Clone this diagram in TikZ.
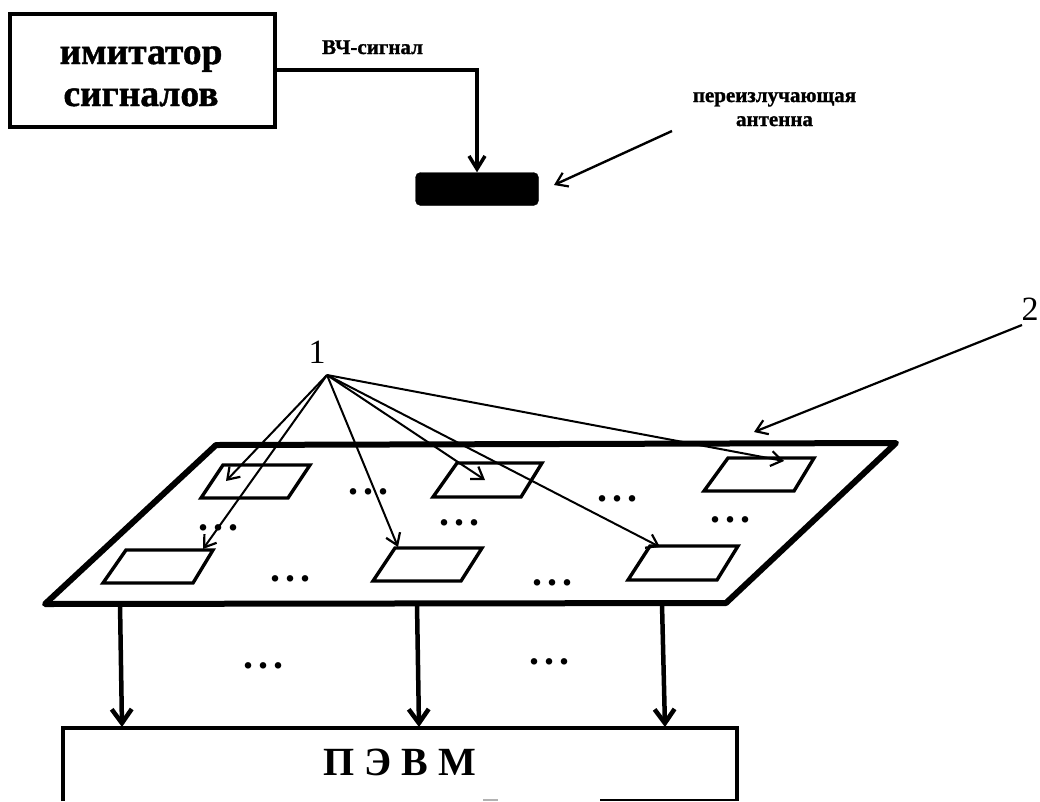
\documentclass[tikz,border=0pt]{standalone}
\usepackage{fontspec}
\setmainfont{Liberation Serif}
\usetikzlibrary{arrows.meta}
\tikzset{
  barb/.style={-{Straight Barb[length=11pt,width=15pt,line width=2.2pt]}},
  thinarrow/.style={line width=2pt,barb},
  heavyarrow/.style={line width=4.5pt,-{Straight Barb[length=14pt,width=20pt,line width=4.5pt]}},
  sensor/.style={line width=3.4pt,line join=miter},
  plate/.style={line width=6pt,line join=round},
  frame/.style={draw,line width=3.8pt,inner sep=0pt},
  label/.style={inner sep=0pt,anchor=base},
  bigtext/.style={label,font=\fontsize{37.5pt}{37.5pt}\bfseries\addfontfeature{FakeBold=1.2}},
  smalltext/.style={label,font=\fontsize{21pt}{24pt}\bfseries\addfontfeature{FakeBold=1.2}},
  digit/.style={label,font=\fontsize{34pt}{34pt}\selectfont},
  dotsn/.style={inner sep=0pt,anchor=base west,font=\fontsize{40pt}{40pt}\bfseries\addfontfeature{LetterSpace=12.5}},
}
\begin{document}
\begin{tikzpicture}[x=1pt,y=-1pt]
\useasboundingbox (0,0) rectangle (1040,801);
% simulator block
\node[frame,minimum width=265pt,minimum height=113pt] (sim) at (142.5,70.5) {};
\node[bigtext] (t1) at (141,64) {имитатор};
\node[bigtext] (t2) at (141,106) {сигналов};
\node[draw,fill=black,rounded corners=5pt,minimum width=123pt,minimum height=33pt,inner sep=0pt] (ant) at (477,189) {};
\coordinate (bend) at (477,70);
\draw[line width=3.5pt,-{Straight Barb[length=13pt,width=16pt,line width=3.5pt]}] (sim.east |- bend) -- (bend) -- (ant.north -| bend);
\node[smalltext] (rf) at (372.5,54) {ВЧ-сигнал};
\node[smalltext,anchor=base,align=center] (re) at (774.5,126) {переизлучающая\\антенна};
\coordinate (reS) at (672,131);
\coordinate (reE) at (554,185);
\draw[line width=2.4pt,barb] (reS) -- (reE);
% plate
\coordinate (p1) at (216,445);
\coordinate (p2) at (896,443);
\coordinate (p3) at (726,603);
\coordinate (p4) at (45,604);
\draw[plate] (p1) -- (p2) -- (p3) -- (p4) -- cycle;
% sensors
\draw[sensor] (223,465) -- (310,465) -- (288,498) -- (201,498) -- cycle;
\draw[sensor] (457,463) -- (542,463) -- (521,497) -- (433,497) -- cycle;
\draw[sensor] (728,458) -- (814,458) -- (794,491) -- (704,491) -- cycle;
\draw[sensor] (126,550) -- (213,550) -- (193,583) -- (103,583) -- cycle;
\draw[sensor] (395,548) -- (482,548) -- (461,581) -- (373,581) -- cycle;
\draw[sensor] (650,546) -- (738,546) -- (717,580) -- (628,580) -- cycle;
% label 1 and leaders
\node[digit] (one) at (317,363) {1};
\coordinate (hub) at (327,375);
\coordinate (a1) at (226,481);
\coordinate (a2) at (203,549);
\coordinate (a3) at (398,547);
\coordinate (a4) at (485,480);
\coordinate (a5) at (784,461);
\coordinate (a6) at (660,547);
\foreach \t in {a1,a2,a3,a4,a5,a6} \draw[thinarrow] (hub) -- (\t);
% label 2 and leader
\node[digit] (two) at (1030,320) {2};
\coordinate (twoS) at (1022,325);
\coordinate (twoE) at (754,432);
\draw[line width=2.2pt,barb] (twoS) -- (twoE);
% dots
\node[dotsn] (d1) at (348,494) {...};
\node[dotsn] (d2) at (439,525) {...};
\node[dotsn] (d3) at (198,530) {...};
\node[dotsn] (d4) at (270,581) {...};
\node[dotsn] (d5) at (597,501) {...};
\node[dotsn] (d6) at (710,522) {...};
\node[dotsn] (d7) at (532,585) {...};
\node[dotsn] (d8) at (243,668) {...};
\node[dotsn] (d9) at (529,664) {...};
% computer
\coordinate (pc1) at (63,728);
\coordinate (pc2) at (737,728);
\draw[line width=3.6pt] (63,801) -- (pc1) -- (pc2) -- (737,801);
\draw[line width=2.5pt] (600,800) -- (737,800);
\draw[line width=2pt,gray!60] (483,800) -- (498,800);
\node[label,font=\fontsize{40pt}{40pt}\bfseries] (pc) at (400,775) {П Э В М};
\coordinate (f1) at (120,604); \coordinate (g1) at (122,727);
\coordinate (f2) at (417,604); \coordinate (g2) at (419,727);
\coordinate (f3) at (662,604); \coordinate (g3) at (665,727);
\draw[heavyarrow] (f1) -- (g1);
\draw[heavyarrow] (f2) -- (g2);
\draw[heavyarrow] (f3) -- (g3);
\end{tikzpicture}
\end{document}
